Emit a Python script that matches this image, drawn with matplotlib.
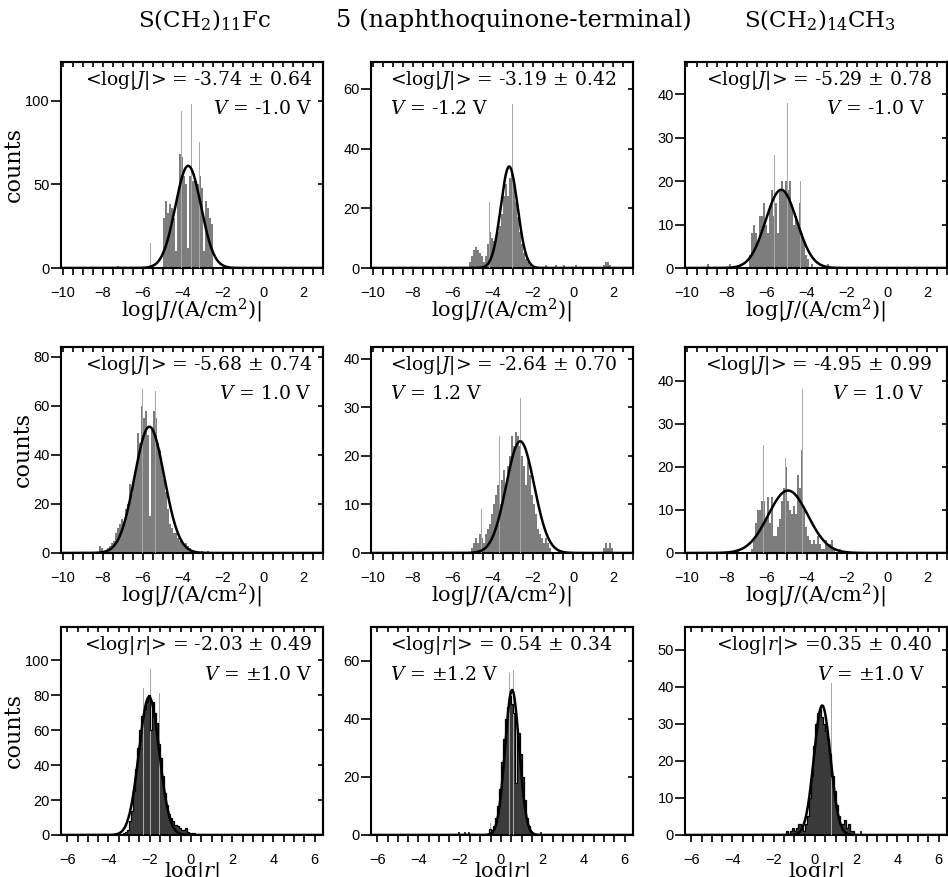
import numpy as np
import matplotlib.pyplot as plt
from matplotlib.ticker import MultipleLocator

plt.rcParams['mathtext.fontset'] = 'custom'
plt.rcParams['mathtext.rm'] = 'DejaVu Serif'
plt.rcParams['mathtext.it'] = 'DejaVu Serif:italic'

# -----------------------------
# DATA (bin width 0.1, first bin centre + counts)
# -----------------------------
BIN = 0.1

# row 1 : V negative, log|J|
fc_neg_start = -4.95
fc_neg_counts = [30, 40, 33, 38, 36, 30, 10, 45, 68, 66, 55, 50, 12, 55, 52, 52, 50, 50, 55, 48, 10, 40, 36, 30, 26]
fc_neg_spike_x = [-5.62, -4.08, -3.58, -3.18]
fc_neg_spike_y = [15, 94, 98, 75]
fc_neg_out_x = [-7.25]
fc_neg_out_y = [1]

nq_neg_start = -5.15
nq_neg_counts = [2, 4, 6, 7, 6, 5, 4, 2, 4, 8, 12, 10, 9, 10, 12, 14, 18, 24, 28, 24, 30, 32, 28, 22, 17, 12, 8, 5, 3, 2, 1]
nq_neg_spike_x = [-4.17, -3.45, -3.03]
nq_neg_spike_y = [22, 44, 55]
nq_neg_out_x = [-1.35, -0.85, -0.45, 0.15, 1.55, 1.65, 1.75, 1.85]
nq_neg_out_y = [1, 1, 1, 1, 1, 2, 2, 1]

ch3_neg_start = -6.85
ch3_neg_counts = [3, 8, 10, 8, 6, 12, 12, 15, 10, 8, 14, 18, 12, 15, 8, 18, 20, 18, 20, 18, 20, 14, 10, 12, 10, 15, 8, 6, 3, 2]
ch3_neg_spike_x = [-6.7, -6.2, -6.05, -5.62, -5.2, -4.97, -4.33]
ch3_neg_spike_y = [11, 17, 18, 26, 27, 38, 20]
ch3_neg_out_x = [-8.95, -7.85, -3.75, -2.95]
ch3_neg_out_y = [1, 1, 1, 1]

# row 2 : V positive, log|J|
fc_pos_start = -8.15
fc_pos_counts = [3, 2, 1, 1, 2, 3, 4, 5, 8, 10, 12, 14, 12, 18, 20, 28, 24, 30, 35, 49, 45, 60, 55, 58, 48, 15, 50, 58, 55, 45,
                 42, 35, 30, 25, 18, 12, 10, 8, 8, 6, 5, 4, 3, 4, 3, 2, 1, 1]
fc_pos_spike_x = [-8.1, -7.05, -6.03, -5.38]
fc_pos_spike_y = [10, 39, 67, 66]
fc_pos_out_x = [-3.05, -2.75]
fc_pos_out_y = [1, 1]

nq_pos_start = -5.05
nq_pos_counts = [1, 2, 3, 2, 4, 3, 2, 4, 5, 6, 8, 10, 12, 14, 10, 15, 17, 14, 18, 20,
                 24, 22, 25, 24, 22, 20, 18, 14, 19, 16, 12, 10, 8, 5, 4, 3, 2, 3, 2, 1]
nq_pos_spike_x = [-4.58, -3.69, -2.62, -2.1]
nq_pos_spike_y = [9, 24, 32, 34]
nq_pos_out_x = [1.55, 1.65, 1.75, 1.85, 1.95]
nq_pos_out_y = [1, 2, 1, 2, 1]

ch3_pos_start = -6.75
ch3_pos_counts = [1, 3, 7, 10, 10, 12, 12, 8, 13, 7, 13, 4, 4, 6, 8, 12, 15, 20, 12, 10,
                  9, 11, 9, 18, 15, 24, 10, 6, 4, 3, 2, 3, 2, 4, 2, 1, 1, 3, 2, 2, 3, 1]
ch3_pos_spike_x = [-6.45, -6.17, -5.07, -4.23, -2.75]
ch3_pos_spike_y = [13, 25, 22, 38, 7]
ch3_pos_out_x = [-7.45, -2.35]
ch3_pos_out_y = [1, 1]

# row 3 : rectification ratio log|r|
fc_r_start = -3.25
fc_r_counts = [1, 2, 3, 8, 14, 25, 38, 50, 60, 68, 72, 76, 80, 60, 76, 70, 64, 52, 44, 34,
               24, 17, 12, 10, 8, 6, 5, 4, 3, 3, 4, 2, 1, 1, 1]
fc_r_spike_x = [-2.32, -1.95, -1.54]
fc_r_spike_y = [84, 95, 81]
fc_r_out_x = []
fc_r_out_y = []

nq_r_start = -0.55
nq_r_counts = [2, 1, 3, 6, 10, 16, 25, 33, 40, 44, 48, 45, 42, 18, 35, 28, 20, 12, 6, 3, 1]
nq_r_spike_x = [-0.5, 0.4, 0.6, 1.02]
nq_r_spike_y = [4, 56, 57, 48]
nq_r_out_x = [-2.05, -1.75, -1.55, 1.95]
nq_r_out_y = [1, 1, 1, 1]

ch3_r_start = -1.35
ch3_r_counts = [1, 0, 1, 2, 1, 2, 3, 2, 1, 3, 5, 10, 16, 24, 30, 33, 34, 32, 30, 28,
                26, 22, 16, 12, 8, 5, 3, 3, 4, 2, 3, 1, 1]
ch3_r_spike_x = [0.05, 0.8]
ch3_r_spike_y = [45, 41]
ch3_r_out_x = [2.25]
ch3_r_out_y = [1]

# Gaussian fits: mean, sigma, peak height
fit_mean = [-3.74, -3.19, -5.29, -5.68, -2.64, -4.95, -2.03, 0.54, 0.35]
fit_sigma = [0.64, 0.42, 0.78, 0.74, 0.70, 0.99, 0.49, 0.34, 0.40]
fit_peak = [61, 34, 18, 51.5, 23, 14.5, 79, 50, 35]

stat_text = [r'<log|$J$|> = -3.74 ± 0.64', r'<log|$J$|> = -3.19 ± 0.42', r'<log|$J$|> = -5.29 ± 0.78',
             r'<log|$J$|> = -5.68 ± 0.74', r'<log|$J$|> = -2.64 ± 0.70', r'<log|$J$|> = -4.95 ± 0.99',
             r'<log|$r$|> = -2.03 ± 0.49', r'<log|$r$|> = 0.54 ± 0.34', r'<log|$r$|> =0.35 ± 0.40']
volt_text = [r'$V$ = -1.0 V', r'$V$ = -1.2 V', r'$V$ = -1.0 V',
             r'$V$ = 1.0 V', r'$V$ = 1.2 V', r'$V$ = 1.0 V',
             r'$V$ = ±1.0 V', r'$V$ = ±1.2 V', r'$V$ = ±1.0 V']
col_titles = [r'S(CH$_2$)$_{11}$Fc', '5 (naphthoquinone-terminal)', r'S(CH$_2$)$_{14}$CH$_3$']

panels = [
    (fc_neg_start, fc_neg_counts, fc_neg_spike_x, fc_neg_spike_y, fc_neg_out_x, fc_neg_out_y),
    (nq_neg_start, nq_neg_counts, nq_neg_spike_x, nq_neg_spike_y, nq_neg_out_x, nq_neg_out_y),
    (ch3_neg_start, ch3_neg_counts, ch3_neg_spike_x, ch3_neg_spike_y, ch3_neg_out_x, ch3_neg_out_y),
    (fc_pos_start, fc_pos_counts, fc_pos_spike_x, fc_pos_spike_y, fc_pos_out_x, fc_pos_out_y),
    (nq_pos_start, nq_pos_counts, nq_pos_spike_x, nq_pos_spike_y, nq_pos_out_x, nq_pos_out_y),
    (ch3_pos_start, ch3_pos_counts, ch3_pos_spike_x, ch3_pos_spike_y, ch3_pos_out_x, ch3_pos_out_y),
    (fc_r_start, fc_r_counts, fc_r_spike_x, fc_r_spike_y, fc_r_out_x, fc_r_out_y),
    (nq_r_start, nq_r_counts, nq_r_spike_x, nq_r_spike_y, nq_r_out_x, nq_r_out_y),
    (ch3_r_start, ch3_r_counts, ch3_r_spike_x, ch3_r_spike_y, ch3_r_out_x, ch3_r_out_y),
]

# -----------------------------
# LAYOUT
# -----------------------------
W, H = 948, 877
col_left = [61, 371, 685]
ax_w = 262
row_top = [62, 347, 627]
row_bot = [268, 553, 835]

ylims = [123, 69, 47.4, 84, 42.4, 47.8, 119, 71.7, 56.2]
yticks = [[0, 50, 100], [0, 20, 40, 60], [0, 10, 20, 30, 40],
          [0, 20, 40, 60, 80], [0, 10, 20, 30, 40], [0, 10, 20, 30, 40],
          [0, 20, 40, 60, 80, 100], [0, 20, 40, 60], [0, 10, 20, 30, 40, 50]]

serif = 'DejaVu Serif'
sans = 'Liberation Sans'
ident = (lambda v: v, lambda v: v)

fig = plt.figure(figsize=(W / 100, H / 100), dpi=100)

for i, (start, counts, sx, sy, ox, oy) in enumerate(panels):
    r, c = divmod(i, 3)
    ax = fig.add_axes([col_left[c] / W, 1 - row_bot[r] / H, ax_w / W, (row_bot[r] - row_top[r]) / H])
    is_r = r == 2
    main_col = '#3a3a3a' if is_r else '#7d7d7d'

    centers = start + BIN * np.arange(len(counts))
    ax.bar(centers, counts, width=BIN, color=main_col, linewidth=0, zorder=2)
    if ox:
        ax.bar(ox, oy, width=BIN, color=main_col, linewidth=0, zorder=2)
    ax.bar(sx, sy, width=0.045, color='#a8a8a8', linewidth=0, zorder=3)
    if is_r:
        # black step outline of the histogram
        ax.stairs(counts, np.append(centers - BIN / 2, centers[-1] + BIN / 2), color='black', lw=0.9, zorder=3)

    xlim = (-6.3, 6.4) if is_r else (-10.1, 3.0)
    xs = np.linspace(xlim[0], xlim[1], 600)
    g = fit_peak[i] * np.exp(-(xs - fit_mean[i]) ** 2 / (2 * fit_sigma[i] ** 2))
    ax.plot(xs, g, color='black', lw=1.8, zorder=4)

    ax.set_xlim(*xlim)
    ax.set_ylim(0, ylims[i])
    ax.set_yticks(yticks[i])
    ax.xaxis.set_major_locator(MultipleLocator(2))
    ax.xaxis.set_minor_locator(MultipleLocator(0.5))
    for s in ax.spines.values():
        s.set_linewidth(1.5)
    ax.tick_params(axis='x', which='both', direction='out', length=5, width=1.2, pad=8)
    ax.tick_params(axis='y', which='major', direction='out', length=7, width=1.2, pad=1)
    ax.tick_params(labelsize=10.5)
    for lab in ax.get_xticklabels() + ax.get_yticklabels():
        lab.set_fontfamily(sans)

    # inward ticks on top and right frame
    top = ax.secondary_xaxis('top', functions=ident)
    top.xaxis.set_major_locator(MultipleLocator(2))
    top.xaxis.set_minor_locator(MultipleLocator(0.5))
    top.tick_params(which='both', direction='in', length=3.5, width=1.2, labeltop=False)
    top.spines['top'].set_linewidth(1.5)
    right = ax.secondary_yaxis('right', functions=ident)
    right.set_yticks(yticks[i])
    right.tick_params(direction='in', length=3.5, width=1.2, labelright=False)
    right.spines['right'].set_linewidth(1.5)

    if is_r:
        ax.set_xlabel(r'log|$r$|', fontsize=15, family=serif, labelpad=-5)
    else:
        ax.set_xlabel(r'log|$J$/(A/cm$^2$)|', fontsize=15, family=serif, labelpad=-2)
    if c == 0:
        ax.set_ylabel('counts', fontsize=16, family=serif, labelpad=0)

    if c == 1:
        ax.text(0.073, 0.91, stat_text[i], transform=ax.transAxes, ha='left', va='center', fontsize=13.5, family=serif)
        ax.text(0.073, 0.77, volt_text[i], transform=ax.transAxes, ha='left', va='center', fontsize=13.5, family=serif)
    else:
        xr = 0.958 if c == 0 else 0.943
        ax.text(xr, 0.91, stat_text[i], transform=ax.transAxes, ha='right', va='center', fontsize=13.5, family=serif)
        ax.text(xr - (0 if c == 0 else 0.027), 0.77, volt_text[i], transform=ax.transAxes, ha='right', va='center',
                fontsize=13.5, family=serif)

title_x = [204, 514, 820]
title_size = [16.5, 17.5, 16.5]
for c in range(3):
    fig.text(title_x[c] / W, 1 - 20 / H, col_titles[c], ha='center', va='center', fontsize=title_size[c], family=serif)

fig.savefig('out.png', dpi=100)
